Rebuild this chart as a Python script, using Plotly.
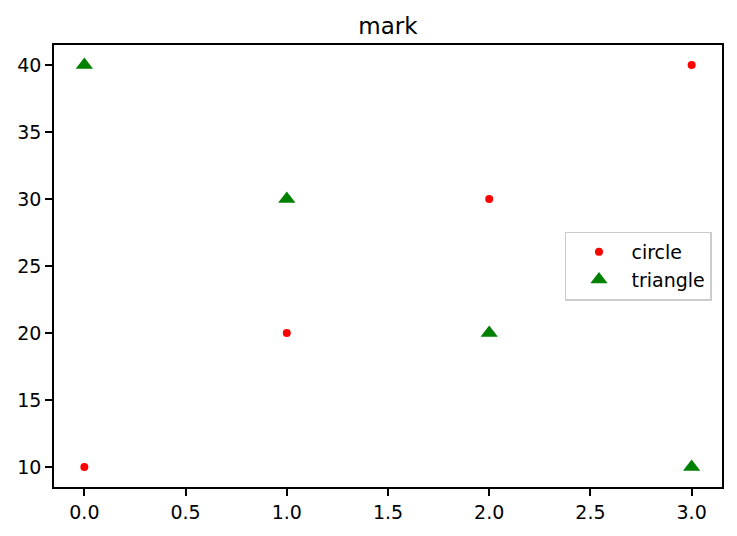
import plotly.graph_objects as go

x_vals = [0, 1, 2, 3]
circle_y = [10, 20, 30, 40]
triangle_y = [40, 30, 20, 10]
x_ticks = [0.0, 0.5, 1.0, 1.5, 2.0, 2.5, 3.0]
y_ticks = [10, 15, 20, 25, 30, 35, 40]

fig = go.Figure()
fig.add_trace(go.Scatter(x=x_vals, y=circle_y, mode="markers", name="circle",
                         marker=dict(symbol="circle", size=8, color="red")))
fig.add_trace(go.Scatter(x=x_vals, y=triangle_y, mode="markers", name="triangle",
                         marker=dict(symbol="triangle-up", size=15, color="green")))

axis_common = dict(showgrid=False, zeroline=False, showline=True, linecolor="black",
                   linewidth=1.5, mirror=True, ticks="outside", ticklen=7, tickwidth=1.5,
                   tickcolor="black", tickfont=dict(family="DejaVu Sans", size=19, color="black"))

fig.update_xaxes(range=[-0.15, 3.15], tickvals=x_ticks,
                 ticktext=[f"{v:.1f}" for v in x_ticks], **axis_common)
fig.update_yaxes(range=[8.5, 41.5], tickvals=y_ticks,
                 ticktext=[str(v) for v in y_ticks], **axis_common)

W, H = 721, 520
fig.update_layout(
    width=W, height=H,
    margin=dict(l=46, r=5, t=37, b=40),
    paper_bgcolor="white", plot_bgcolor="white",
    title=dict(text="mark", x=0.5, xref="paper", xanchor="center", y=1 - 18/H, yanchor="middle",
               font=dict(family="DejaVu Sans", size=23, color="black")),
    legend=dict(x=0.985, y=0.50, xanchor="right", yanchor="middle",
                bgcolor="white", bordercolor="#cccccc", borderwidth=1.5, itemwidth=55,
                font=dict(family="DejaVu Sans", size=19, color="black")),
)

fig.write_html("out.html")
